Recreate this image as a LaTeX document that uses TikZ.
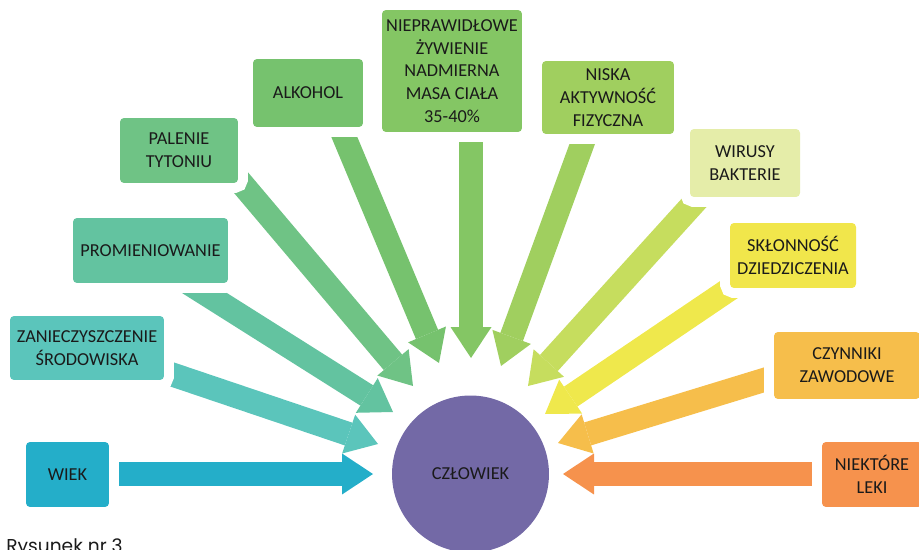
\documentclass[tikz,border=0pt]{standalone}
\usepackage{fontspec}
\setmainfont{Carlito}
\newfontfamily\captionfont{Poppins}
\usetikzlibrary{arrows.meta,backgrounds}

\definecolor{wiekcol}{HTML}{24AEC9}
\definecolor{zanieccol}{HTML}{5BC5BB}
\definecolor{promcol}{HTML}{63C3A0}
\definecolor{palcol}{HTML}{6FC385}
\definecolor{alkcol}{HTML}{76C26E}
\definecolor{niepcol}{HTML}{84C664}
\definecolor{niskacol}{HTML}{A0CF5F}
\definecolor{wirboxcol}{HTML}{E5EDA9}
\definecolor{wirarrcol}{HTML}{C6DD5E}
\definecolor{sklboxcol}{HTML}{F1E64B}
\definecolor{sklarrcol}{HTML}{EFE84C}
\definecolor{czyncol}{HTML}{F6BE4B}
\definecolor{lekicol}{HTML}{F6924D}
\definecolor{czlcol}{HTML}{7369A6}
\definecolor{txtcol}{HTML}{1A1A1A}

\begin{document}
\begin{tikzpicture}[x=0.02cm,y=-0.02cm,
    factor/.style={fill=#1,rounded corners=0.08cm,inner sep=0pt,align=center,
      preaction={draw=white,line width=0.4cm},text=txtcol,
      font=\fontsize{10.4}{13}\selectfont},
    push/.style={draw=#1,line width=0.48cm,
      -{Triangle[length=0.62cm,width=0.82cm,line width=0pt]}}]
      \useasboundingbox (0,0) rectangle (919,550);
      % the man in the middle
      \node[circle,fill=czlcol,minimum size=3.14cm,inner sep=0pt,text=txtcol,
        font=\fontsize{10.4}{13}\selectfont] (czlowiek) at (470.5,474) {CZŁOWIEK};
      % factors, left to right
      \node[factor=wiekcol,minimum width=1.66cm,minimum height=1.3cm] (wiek) at (67.5,474.5) {WIEK};
      \node[factor=zanieccol,minimum width=3.08cm,minimum height=1.28cm] (zanieczyszczenie) at (87,348) {ZANIECZYSZCZENIE\\ŚRODOWISKA};
      \node[factor=promcol,minimum width=3.1cm,minimum height=1.3cm] (promieniowanie) at (150.5,250.5) {PROMIENIOWANIE};
      \node[factor=palcol,minimum width=2.36cm,minimum height=1.3cm] (palenie) at (179,150.5) {PALENIE\\TYTONIU};
      \node[factor=alkcol,minimum width=2.2cm,minimum height=1.36cm] (alkohol) at (308,93) {ALKOHOL};
      \node[factor=niepcol,minimum width=2.8cm,minimum height=2.44cm] (nieprawidlowe) at (452,71) {NIEPRAWIDŁOWE\\ŻYWIENIE\\NADMIERNA\\MASA CIAŁA\\35-40\%};
      \node[factor=niskacol,minimum width=2.64cm,minimum height=1.46cm] (niska) at (608,97.5) {NISKA\\AKTYWNOŚĆ\\FIZYCZNA};
      \node[factor=wirboxcol,minimum width=2.2cm,minimum height=1.36cm] (wirusy) at (745,163) {WIRUSY\\BAKTERIE};
      \node[factor=sklboxcol,minimum width=2.52cm,minimum height=1.3cm] (sklonnosc) at (793,255.5) {SKŁONNOŚĆ\\DZIEDZICZENIA};
      \node[factor=czyncol,minimum width=2.92cm,minimum height=1.34cm] (czynniki) at (847,365.5) {CZYNNIKI\\ZAWODOWE};
      \node[factor=lekicol,minimum width=2cm,minimum height=1.3cm] (leki) at (872,474.5) {NIEKTÓRE\\LEKI};
      % caption
      \node[anchor=base west,inner sep=0pt,text=txtcol,font=\captionfont\fontsize{10.6}{13}\selectfont] (podpis) at (6,552) {Rysunek nr 3};
      % ends of the arrows
      \coordinate (wiek-tail) at (90,474);          \coordinate (wiek-tip) at (373,474);
      \coordinate (zanieczyszczenie-tail) at (150,367); \coordinate (zanieczyszczenie-tip) at (378,444);
      \coordinate (promieniowanie-tail) at (168,270); \coordinate (promieniowanie-tip) at (393,412);
      \coordinate (palenie-tail) at (221,159);      \coordinate (palenie-tip) at (413,386);
      \coordinate (alkohol-tail) at (333,110);      \coordinate (alkohol-tip) at (439,363);
      \coordinate (nieprawidlowe-tail) at (471,110); \coordinate (nieprawidlowe-tip) at (471,358);
      \coordinate (niska-tail) at (591,120);        \coordinate (niska-tip) at (501,366);
      \coordinate (wirusy-tail) at (713,182);       \coordinate (wirusy-tip) at (528,386);
      \coordinate (sklonnosc-tail) at (749,276);    \coordinate (sklonnosc-tip) at (545,414);
      \coordinate (czynniki-tail) at (790,372);     \coordinate (czynniki-tip) at (558,443);
      \coordinate (leki-tail) at (850,474);         \coordinate (leki-tip) at (563,474);
      % arrows go under the boxes
      \begin{scope}[on background layer]
        \draw[push=wiekcol] (wiek-tail) -- (wiek-tip);
        \draw[push=zanieccol] (zanieczyszczenie-tail) -- (zanieczyszczenie-tip);
        \draw[push=promcol] (promieniowanie-tail) -- (promieniowanie-tip);
        \draw[push=palcol] (palenie-tail) -- (palenie-tip);
        \draw[push=alkcol] (alkohol-tail) -- (alkohol-tip);
        \draw[push=niepcol] (nieprawidlowe-tail) -- (nieprawidlowe-tip);
        \draw[push=niskacol] (niska-tail) -- (niska-tip);
        \draw[push=wirarrcol] (wirusy-tail) -- (wirusy-tip);
        \draw[push=sklarrcol] (sklonnosc-tail) -- (sklonnosc-tip);
        \draw[push=czyncol] (czynniki-tail) -- (czynniki-tip);
        \draw[push=lekicol] (leki-tail) -- (leki-tip);
      \end{scope}
    \end{tikzpicture}
\end{document}
